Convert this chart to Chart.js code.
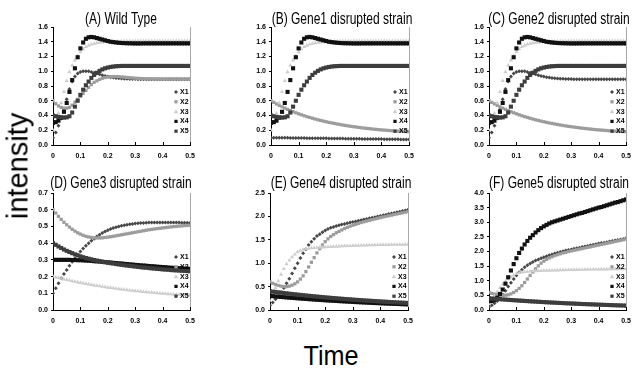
<!DOCTYPE html>
<html>
<head>
<meta charset="utf-8">
<title>Gene disruption time courses</title>
<script src="https://cdn.jsdelivr.net/npm/chart.js@4.4.0/dist/chart.umd.min.js"></script>
<style>
    body { margin: 0; background: #fff; }
    #page { position: relative; width: 632px; height: 376px; overflow: hidden; background: #fff; }
    #page canvas { position: absolute; }
    .axis-title, .panel-title {
        position: absolute;
        font-family: 'Liberation Sans', Arial, sans-serif;
        color: #000;
        white-space: nowrap;
        line-height: 1;
    }
    .panel-title { font-size: 16px; transform: translate(-50%, -50%) scaleX(0.75); }
    #yTitle { left: 18px; top: 166px; font-size: 29px; transform: translate(-50%, -50%) rotate(-90deg); }
    #xTitle { left: 331px; top: 356px; font-size: 28px; transform: translate(-50%, -50%) scaleX(0.9); }
</style>
</head>
<body>
<div id="page">
    <canvas id="chartA" width="197" height="156" style="left:23px;top:9px"></canvas>
    <canvas id="chartB" width="198" height="156" style="left:241px;top:9px"></canvas>
    <canvas id="chartC" width="197" height="156" style="left:459px;top:9px"></canvas>
    <canvas id="chartD" width="197" height="155" style="left:23px;top:175px"></canvas>
    <canvas id="chartE" width="198" height="155" style="left:240px;top:175px"></canvas>
    <canvas id="chartF" width="197" height="155" style="left:459px;top:175px"></canvas>
    <div class="panel-title" id="titleA" style="left:121px;top:19px"></div>
    <div class="panel-title" id="titleB" style="left:342px;top:19px"></div>
    <div class="panel-title" id="titleC" style="left:559px;top:19px"></div>
    <div class="panel-title" id="titleD" style="left:121px;top:183px"></div>
    <div class="panel-title" id="titleE" style="left:341px;top:183px"></div>
    <div class="panel-title" id="titleF" style="left:559px;top:183px"></div>
    <div class="axis-title" id="yTitle">intensity</div>
    <div class="axis-title" id="xTitle">Time</div>
</div>
<script>
// time points (x values shared by every series)
const time = [
    0, 0.01, 0.02, 0.03, 0.04, 0.05, 0.06, 0.07, 0.08, 0.09,
    0.10, 0.11, 0.12, 0.13, 0.14, 0.15, 0.16, 0.17, 0.18, 0.19,
    0.20, 0.21, 0.22, 0.23, 0.24, 0.25, 0.26, 0.27, 0.28, 0.29,
    0.30, 0.31, 0.32, 0.33, 0.34, 0.35, 0.36, 0.37, 0.38, 0.39,
    0.40, 0.41, 0.42, 0.43, 0.44, 0.45, 0.46, 0.47, 0.48, 0.49,
    0.50
];

const seriesNames = ['X1', 'X2', 'X3', 'X4', 'X5'];
const panelTitles = [
    '(A) Wild Type',
    '(B) Gene1 disrupted strain',
    '(C) Gene2 disrupted strain',
    '(D) Gene3 disrupted strain',
    '(E) Gene4 disrupted strain',
    '(F) Gene5 disrupted strain'
];
const yMax = [1.6, 1.6, 1.6, 0.7, 2.5, 4.0];
const yStep = [0.2, 0.2, 0.2, 0.1, 0.5, 0.5];

// wild type curves (X3, X4, X5 also unchanged in B and C)
const x1Wild = [
    0.10, 0.17, 0.26, 0.36, 0.48, 0.62, 0.76, 0.86, 0.93, 0.97,
    0.99, 1.00, 1.00, 1.00, 0.99, 0.98, 0.97, 0.958, 0.947, 0.937,
    0.928, 0.920, 0.914, 0.909, 0.905, 0.902, 0.900, 0.898, 0.896, 0.895,
    0.894, 0.893, 0.892, 0.892, 0.891, 0.891, 0.890, 0.890, 0.890, 0.890,
    0.890, 0.890, 0.890, 0.890, 0.890, 0.890, 0.890, 0.890, 0.890, 0.890,
    0.890
];
const x2Wild = [
    0.60, 0.56, 0.53, 0.51, 0.50, 0.50, 0.51, 0.54, 0.58, 0.62,
    0.66, 0.70, 0.74, 0.78, 0.82, 0.85, 0.87, 0.89, 0.905, 0.915,
    0.922, 0.926, 0.928, 0.928, 0.926, 0.923, 0.920, 0.916, 0.912, 0.909,
    0.906, 0.903, 0.901, 0.899, 0.898, 0.897, 0.896, 0.896, 0.895, 0.895,
    0.895, 0.895, 0.895, 0.895, 0.895, 0.895, 0.895, 0.895, 0.895, 0.895,
    0.895
];
const x3Wild = [
    0.20, 0.30, 0.43, 0.57, 0.72, 0.87, 0.99, 1.08, 1.15, 1.21,
    1.26, 1.30, 1.33, 1.35, 1.365, 1.375, 1.383, 1.389, 1.394, 1.397,
    1.400, 1.402, 1.404, 1.405, 1.406, 1.407, 1.408, 1.408, 1.409, 1.409,
    1.41, 1.41, 1.41, 1.41, 1.41, 1.41, 1.41, 1.41, 1.41, 1.41,
    1.41, 1.41, 1.41, 1.41, 1.41, 1.41, 1.41, 1.41, 1.41, 1.41,
    1.41
];
const x4Wild = [
    0.30, 0.31, 0.33, 0.37, 0.45, 0.57, 0.72, 0.88, 1.04, 1.19,
    1.31, 1.39, 1.44, 1.46, 1.465, 1.46, 1.45, 1.44, 1.43, 1.42,
    1.41, 1.40, 1.395, 1.39, 1.386, 1.383, 1.381, 1.380, 1.379, 1.378,
    1.377, 1.377, 1.377, 1.378, 1.378, 1.378, 1.378, 1.378, 1.378, 1.378,
    1.378, 1.378, 1.378, 1.378, 1.378, 1.378, 1.378, 1.378, 1.378, 1.378,
    1.378
];
const x5Wild = [
    0.40, 0.39, 0.38, 0.375, 0.372, 0.375, 0.39, 0.44, 0.52, 0.60,
    0.68, 0.75, 0.81, 0.86, 0.91, 0.95, 0.98, 1.005, 1.025, 1.04,
    1.05, 1.058, 1.064, 1.068, 1.07, 1.072, 1.072, 1.072, 1.072, 1.072,
    1.072, 1.072, 1.072, 1.072, 1.072, 1.072, 1.072, 1.072, 1.072, 1.072,
    1.072, 1.072, 1.072, 1.072, 1.072, 1.072, 1.072, 1.072, 1.072, 1.072,
    1.072
];

// gene1 disrupted: X1 stays low
const x1Gene1 = [
    0.100, 0.099, 0.099, 0.098, 0.098, 0.097, 0.097, 0.096, 0.096, 0.095,
    0.095, 0.094, 0.094, 0.093, 0.093, 0.092, 0.092, 0.091, 0.091, 0.090,
    0.090, 0.089, 0.089, 0.088, 0.088, 0.087, 0.087, 0.086, 0.086, 0.085,
    0.085, 0.084, 0.084, 0.083, 0.083, 0.082, 0.082, 0.081, 0.081, 0.080,
    0.080, 0.079, 0.079, 0.078, 0.078, 0.077, 0.077, 0.076, 0.076, 0.075,
    0.075
];
// X2 decaying (seen in B and C)
const x2Decay = [
    0.600, 0.578, 0.557, 0.537, 0.518, 0.500, 0.483, 0.467, 0.452, 0.437,
    0.423, 0.410, 0.397, 0.385, 0.374, 0.363, 0.352, 0.342, 0.333, 0.324,
    0.315, 0.307, 0.299, 0.292, 0.285, 0.278, 0.271, 0.265, 0.259, 0.253,
    0.248, 0.243, 0.238, 0.233, 0.228, 0.224, 0.220, 0.216, 0.212, 0.208,
    0.205, 0.202, 0.199, 0.196, 0.193, 0.190, 0.188, 0.186, 0.184, 0.182,
    0.180
];

// gene3 disrupted
const x1Gene3 = [
    0.10, 0.13, 0.16, 0.19, 0.215, 0.24, 0.265, 0.288, 0.31, 0.33,
    0.35, 0.368, 0.385, 0.40, 0.414, 0.427, 0.439, 0.45, 0.46, 0.469,
    0.477, 0.484, 0.49, 0.495, 0.50, 0.504, 0.507, 0.51, 0.513, 0.515,
    0.517, 0.519, 0.52, 0.521, 0.522, 0.523, 0.523, 0.524, 0.524, 0.524,
    0.524, 0.524, 0.524, 0.524, 0.523, 0.523, 0.523, 0.522, 0.522, 0.522,
    0.521
];
const x2Gene3 = [
    0.60, 0.58, 0.56, 0.542, 0.525, 0.51, 0.496, 0.483, 0.472, 0.462,
    0.454, 0.447, 0.441, 0.437, 0.434, 0.432, 0.431, 0.431, 0.432, 0.434,
    0.436, 0.438, 0.441, 0.444, 0.447, 0.45, 0.453, 0.456, 0.459, 0.462,
    0.465, 0.468, 0.471, 0.474, 0.477, 0.48, 0.482, 0.485, 0.487, 0.489,
    0.491, 0.493, 0.495, 0.497, 0.499, 0.50, 0.502, 0.503, 0.505, 0.506,
    0.507
];
const x3Gene3 = [
    0.20, 0.196, 0.192, 0.188, 0.184, 0.18, 0.177, 0.173, 0.17, 0.166,
    0.163, 0.16, 0.157, 0.154, 0.151, 0.148, 0.145, 0.143, 0.14, 0.138,
    0.135, 0.133, 0.131, 0.128, 0.126, 0.124, 0.122, 0.12, 0.118, 0.116,
    0.114, 0.113, 0.111, 0.109, 0.108, 0.106, 0.105, 0.103, 0.102, 0.10,
    0.099, 0.098, 0.096, 0.095, 0.094, 0.093, 0.092, 0.091, 0.09, 0.089,
    0.088
];
const x4Gene3 = [
    0.30, 0.30, 0.30, 0.30, 0.30, 0.30, 0.30, 0.299, 0.299, 0.298,
    0.298, 0.297, 0.296, 0.295, 0.294, 0.292, 0.291, 0.29, 0.288, 0.287,
    0.285, 0.284, 0.282, 0.281, 0.279, 0.278, 0.276, 0.275, 0.273, 0.272,
    0.27, 0.269, 0.267, 0.266, 0.265, 0.263, 0.262, 0.261, 0.259, 0.258,
    0.257, 0.256, 0.254, 0.253, 0.252, 0.251, 0.25, 0.249, 0.248, 0.247,
    0.246
];
const x5Gene3 = [
    0.40, 0.39, 0.38, 0.371, 0.362, 0.354, 0.347, 0.34, 0.333, 0.327,
    0.321, 0.316, 0.311, 0.307, 0.303, 0.299, 0.296, 0.292, 0.289, 0.286,
    0.283, 0.28, 0.278, 0.275, 0.273, 0.27, 0.268, 0.266, 0.264, 0.262,
    0.26, 0.258, 0.256, 0.254, 0.253, 0.251, 0.249, 0.248, 0.246, 0.245,
    0.243, 0.242, 0.241, 0.239, 0.238, 0.237, 0.236, 0.235, 0.234, 0.233,
    0.232
];

// gene4 disrupted
const x1Gene4 = [
    0.10, 0.16, 0.23, 0.30, 0.38, 0.47, 0.57, 0.67, 0.78, 0.89,
    1.00, 1.11, 1.21, 1.30, 1.39, 1.46, 1.52, 1.58, 1.62, 1.66,
    1.70, 1.73, 1.755, 1.775, 1.795, 1.81, 1.825, 1.84, 1.855, 1.868,
    1.88, 1.893, 1.906, 1.919, 1.932, 1.945, 1.958, 1.971, 1.984, 1.997,
    2.01, 2.023, 2.036, 2.049, 2.062, 2.075, 2.088, 2.101, 2.114, 2.127,
    2.14
];
const x2Gene4 = [
    0.60, 0.57, 0.545, 0.525, 0.51, 0.50, 0.50, 0.51, 0.53, 0.56,
    0.60, 0.66, 0.73, 0.82, 0.92, 1.02, 1.12, 1.22, 1.31, 1.39,
    1.46, 1.52, 1.57, 1.61, 1.65, 1.68, 1.71, 1.74, 1.765, 1.79,
    1.81, 1.83, 1.85, 1.868, 1.885, 1.90, 1.915, 1.93, 1.945, 1.96,
    1.974, 1.988, 2.00, 2.013, 2.026, 2.039, 2.052, 2.065, 2.078, 2.09,
    2.10
];
const x3Gene4 = [
    0.20, 0.33, 0.47, 0.62, 0.76, 0.88, 0.98, 1.06, 1.13, 1.19,
    1.24, 1.27, 1.29, 1.305, 1.315, 1.322, 1.328, 1.333, 1.337, 1.341,
    1.345, 1.349, 1.352, 1.355, 1.358, 1.361, 1.364, 1.367, 1.37, 1.372,
    1.374, 1.376, 1.378, 1.38, 1.382, 1.384, 1.386, 1.388, 1.39, 1.391,
    1.392, 1.393, 1.394, 1.395, 1.396, 1.397, 1.398, 1.399, 1.40, 1.40,
    1.40
];
const x4Gene4 = [
    0.30, 0.295, 0.289, 0.284, 0.279, 0.274, 0.269, 0.264, 0.259, 0.255,
    0.25, 0.246, 0.241, 0.237, 0.232, 0.228, 0.224, 0.22, 0.216, 0.212,
    0.208, 0.204, 0.201, 0.197, 0.194, 0.19, 0.187, 0.183, 0.18, 0.177,
    0.173, 0.17, 0.167, 0.164, 0.161, 0.158, 0.155, 0.152, 0.149, 0.147,
    0.144, 0.141, 0.139, 0.136, 0.134, 0.131, 0.129, 0.127, 0.124, 0.122,
    0.12
];
const x5Gene4 = [
    0.40, 0.392, 0.385, 0.377, 0.37, 0.362, 0.355, 0.348, 0.342, 0.335,
    0.329, 0.322, 0.316, 0.31, 0.304, 0.298, 0.292, 0.287, 0.281, 0.276,
    0.27, 0.265, 0.26, 0.255, 0.25, 0.245, 0.24, 0.236, 0.231, 0.227,
    0.222, 0.218, 0.214, 0.21, 0.205, 0.201, 0.198, 0.194, 0.19, 0.187,
    0.183, 0.179, 0.176, 0.172, 0.169, 0.165, 0.162, 0.159, 0.156, 0.153,
    0.15
];

// gene5 disrupted (X3 and X5 follow the gene4 curves)
const x1Gene5 = [
    0.10, 0.16, 0.23, 0.31, 0.41, 0.53, 0.66, 0.80, 0.93, 1.06,
    1.18, 1.29, 1.38, 1.46, 1.53, 1.59, 1.64, 1.69, 1.73, 1.77,
    1.80, 1.84, 1.87, 1.90, 1.93, 1.96, 1.98, 2.01, 2.03, 2.05,
    2.07, 2.09, 2.11, 2.13, 2.15, 2.17, 2.19, 2.21, 2.23, 2.25,
    2.27, 2.29, 2.30, 2.32, 2.34, 2.36, 2.38, 2.39, 2.41, 2.43,
    2.45
];
const x2Gene5 = [
    0.60, 0.57, 0.545, 0.525, 0.51, 0.50, 0.505, 0.52, 0.55, 0.60,
    0.66, 0.74, 0.83, 0.94, 1.06, 1.18, 1.30, 1.41, 1.51, 1.60,
    1.67, 1.73, 1.78, 1.82, 1.86, 1.89, 1.92, 1.95, 1.97, 2.00,
    2.02, 2.04, 2.06, 2.08, 2.10, 2.12, 2.14, 2.16, 2.18, 2.20,
    2.22, 2.24, 2.26, 2.28, 2.30, 2.32, 2.34, 2.36, 2.38, 2.40,
    2.42
];
const x4Gene5 = [
    0.30, 0.31, 0.34, 0.42, 0.55, 0.70, 0.90, 1.12, 1.35, 1.57,
    1.77, 1.95, 2.10, 2.24, 2.36, 2.47, 2.56, 2.65, 2.73, 2.80,
    2.86, 2.91, 2.96, 3.00, 3.03, 3.06, 3.09, 3.12, 3.15, 3.18,
    3.21, 3.24, 3.27, 3.30, 3.32, 3.35, 3.38, 3.41, 3.44, 3.47,
    3.50, 3.52, 3.55, 3.58, 3.61, 3.64, 3.67, 3.69, 3.72, 3.75,
    3.78
];

const panelSeries = [
    [x1Wild, x2Wild, x3Wild, x4Wild, x5Wild],
    [x1Gene1, x2Decay, x3Wild, x4Wild, x5Wild],
    [x1Wild, x2Decay, x3Wild, x4Wild, x5Wild],
    [x1Gene3, x2Gene3, x3Gene3, x4Gene3, x5Gene3],
    [x1Gene4, x2Gene4, x3Gene4, x4Gene4, x5Gene4],
    [x1Gene5, x2Gene5, x3Gene4, x4Gene5, x5Gene4]
];

const FONT = "'Liberation Sans', Arial, sans-serif";

// marker look for X1..X5
const markerStyles = [
    { shape: 'rectRot', radius: 2.0, color: '#474747' },
    { shape: 'rect', radius: 2.3, color: '#9c9c9c' },
    { shape: 'triangle', radius: 2.4, color: '#cdcdcd' },
    { shape: 'rect', radius: 2.9, color: '#111111' },
    { shape: 'rect', radius: 2.9, color: '#3d3d3d' }
];

function drawMarker(ctx, shape, x, y, r, color) {
    ctx.save();
    ctx.fillStyle = color;
    ctx.beginPath();
    if (shape === 'rectRot') {
        ctx.moveTo(x, y - r);
        ctx.lineTo(x + r, y);
        ctx.lineTo(x, y + r);
        ctx.lineTo(x - r, y);
    } else if (shape === 'triangle') {
        ctx.moveTo(x, y - r);
        ctx.lineTo(x + r, y + r * 0.7);
        ctx.lineTo(x - r, y + r * 0.7);
    } else {
        const h = r * Math.SQRT1_2;
        ctx.rect(x - h, y - h, 2 * h, 2 * h);
    }
    ctx.closePath();
    ctx.fill();
    ctx.restore();
}

// right frame line, inner x ticks and the little legend in the corner
const panelExtras = {
    id: 'panelExtras',
    afterDraw(chart) {
        const ctx = chart.ctx;
        const area = chart.chartArea;
        const xScale = chart.scales.x;

        ctx.save();
        ctx.strokeStyle = '#a8a8a8';
        ctx.lineWidth = 1;
        ctx.beginPath();
        ctx.moveTo(Math.round(area.right) + 0.5, area.top);
        ctx.lineTo(Math.round(area.right) + 0.5, area.bottom);
        ctx.stroke();

        ctx.strokeStyle = '#000';
        ctx.beginPath();
        xScale.ticks.forEach(t => {
            if (t.value === 0) return;
            const px = Math.round(xScale.getPixelForValue(t.value)) + 0.5;
            ctx.moveTo(px, area.bottom);
            ctx.lineTo(px, area.bottom - 3);
        });
        ctx.stroke();

        ctx.font = 'bold 7px ' + FONT;
        ctx.fillStyle = '#000';
        ctx.textBaseline = 'middle';
        ctx.textAlign = 'left';
        chart.data.datasets.forEach((ds, i) => {
            const y = area.bottom - 53 + i * 9.8;
            const st = markerStyles[i];
            drawMarker(ctx, st.shape, area.right - 14, y, Math.min(st.radius, 2.3), st.color);
            ctx.fillText(ds.label, area.right - 10, y);
        });
        ctx.restore();
    }
};

function buildPanel(canvasId, idx) {
    const datasets = panelSeries[idx].map((values, s) => ({
        label: seriesNames[s],
        data: values.map((v, i) => ({ x: time[i], y: v })),
        pointStyle: markerStyles[s].shape,
        pointRadius: markerStyles[s].radius,
        pointBackgroundColor: markerStyles[s].color,
        pointBorderWidth: 0,
        order: 4 - s
    }));

    const tickFont = { family: FONT, size: 7, weight: 'bold' };

    document.getElementById('title' + canvasId.slice(-1)).textContent = panelTitles[idx];

    new Chart(document.getElementById(canvasId), {
        type: 'scatter',
        data: { datasets: datasets },
        options: {
            responsive: false,
            animation: false,
            events: [],
            layout: { padding: { left: 0, right: 30, top: 18, bottom: 0 } },
            plugins: {
                legend: { display: false },
                tooltip: { enabled: false },
                title: { display: false }
            },
            scales: {
                x: {
                    type: 'linear',
                    min: 0,
                    max: 0.5,
                    afterFit: scale => { scale.height = 20; },
                    ticks: {
                        stepSize: 0.1,
                        color: '#000',
                        font: tickFont,
                        padding: 7,
                        maxRotation: 0,
                        callback: v => (v === 0 ? '0' : v.toFixed(1))
                    },
                    grid: { drawOnChartArea: false, drawTicks: false },
                    border: { color: '#000', width: 1 }
                },
                y: {
                    min: 0,
                    max: yMax[idx],
                    afterFit: scale => { scale.width = 30; },
                    ticks: {
                        stepSize: yStep[idx],
                        color: '#000',
                        font: tickFont,
                        padding: 3,
                        callback: v => v.toFixed(1)
                    },
                    grid: { drawOnChartArea: false, drawTicks: true, tickLength: 2, color: '#000' },
                    border: { color: '#000', width: 1 }
                }
            }
        },
        plugins: [panelExtras]
    });
}

['chartA', 'chartB', 'chartC', 'chartD', 'chartE', 'chartF'].forEach(buildPanel);
</script>
</body>
</html>
